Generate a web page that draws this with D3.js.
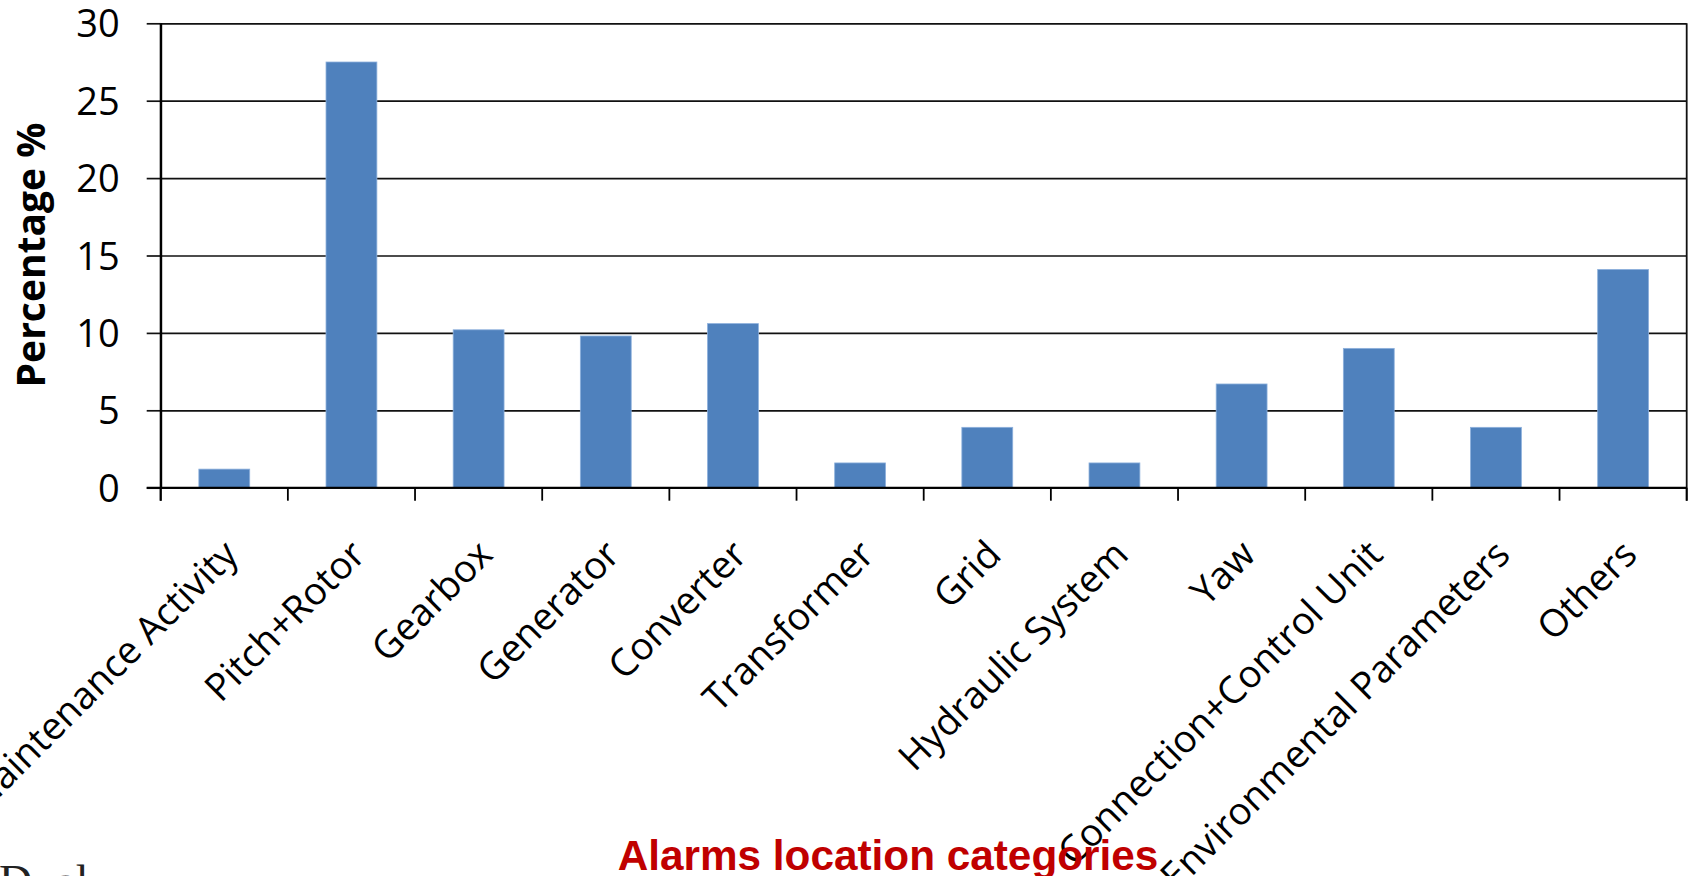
<!DOCTYPE html>
<html>
<head>
<meta charset="utf-8">
<script src="https://cdn.jsdelivr.net/npm/d3@7"></script>
<style>
  html, body { margin: 0; padding: 0; background: #fff; overflow: hidden; }
  svg { display: block; }
</style>
</head>
<body>
<svg id="chart" width="1694" height="876"></svg>
<script>
// ---- data ----
const categories = ["Maintenance Activity", "Pitch+Rotor", "Gearbox", "Generator", "Converter",
  "Transformer", "Grid", "Hydraulic System", "Yaw", "Connection+Control Unit",
  "Environmental Parameters", "Others"];
const percentages = [1.2, 27.5, 10.2, 9.8, 10.6, 1.6, 3.9, 1.6, 6.7, 9.0, 3.9, 14.1];
const yTicks = [0, 5, 10, 15, 20, 25, 30];
const yLabel = "Percentage %";
const xLabel = "Alarms location categories";
const footText = "Dual";

// ---- layout ----
const pLeft = 160.7, pRight = 1686.7, pTop = 23.3, pBottom = 487.7;
const svg = d3.select("#chart");

const y = d3.scaleLinear().domain([0, 30]).range([pBottom, pTop]);
const x = d3.scaleBand().domain(categories).range([pLeft, pRight]).paddingInner(0.6).paddingOuter(0.3);
const xb = d3.scaleBand().domain(categories).range([pLeft, pRight]).padding(0);

// gridlines
const grid = svg.append("g").attr("transform", `translate(${pLeft},0)`)
  .call(d3.axisLeft(y).tickValues(yTicks).tickSize(-(pRight - pLeft)).tickFormat(""));
grid.select(".domain").remove();
grid.selectAll("line").attr("stroke", "#111").attr("stroke-width", 1.7);

// bars
svg.append("g").selectAll("rect").data(categories).join("rect")
  .attr("x", d => x(d))
  .attr("width", x.bandwidth())
  .attr("y", (d, i) => y(percentages[i]))
  .attr("height", (d, i) => y(0) - y(percentages[i]))
  .attr("fill", "#4F81BD")
  .attr("stroke", "#8DB0DC")
  .attr("stroke-width", 0.8);

// right border
svg.append("line").attr("x1", pRight).attr("x2", pRight).attr("y1", y(30)).attr("y2", y(0) + 13)
  .attr("stroke", "#111").attr("stroke-width", 1.8);

// y axis
const ya = svg.append("g").attr("transform", `translate(${pLeft},0)`)
  .call(d3.axisLeft(y).tickValues(yTicks).tickSize(14).tickSizeOuter(0).tickPadding(27));
ya.select(".domain").attr("stroke", "#000").attr("stroke-width", 2);
ya.selectAll("line").attr("stroke", "#111").attr("stroke-width", 1.7);
ya.selectAll("text").attr("font-family", "'Open Sans', sans-serif").attr("font-size", 38)
  .attr("fill", "#000").attr("dy", "0.36em");

// x axis baseline
svg.append("line").attr("x1", pLeft - 14).attr("x2", pRight).attr("y1", y(0)).attr("y2", y(0))
  .attr("stroke", "#000").attr("stroke-width", 2);
// category boundary ticks
const bounds = categories.map(c => xb(c)).concat([xb(categories[categories.length - 1]) + xb.bandwidth()]);
svg.append("g").selectAll("line").data(bounds).join("line")
  .attr("x1", d => d).attr("x2", d => d)
  .attr("y1", y(0)).attr("y2", y(0) + 13)
  .attr("stroke", "#000").attr("stroke-width", 1.8);

// left axis line extension down
svg.append("line").attr("x1", pLeft).attr("x2", pLeft).attr("y1", y(30)).attr("y2", y(0) + 13)
  .attr("stroke", "#000").attr("stroke-width", 2);

// category labels
svg.append("g").selectAll("text").data(categories).join("text")
  .attr("transform", d => `translate(${xb(d) + xb.bandwidth() / 2 + 16},${y(0) + 69}) rotate(-45)`)
  .attr("text-anchor", "end")
  .attr("font-family", "'Open Sans', sans-serif")
  .attr("font-size", 38)
  .attr("fill", "#000")
  .text(d => d);

// y label
svg.append("text")
  .attr("transform", `translate(45,255) rotate(-90)`)
  .attr("text-anchor", "middle")
  .attr("font-family", "'Open Sans', sans-serif")
  .attr("font-weight", "bold")
  .attr("font-size", 39)
  .attr("fill", "#000")
  .text(yLabel);

// x title
svg.append("text")
  .attr("x", 888).attr("y", 870)
  .attr("text-anchor", "middle")
  .attr("font-family", "'Liberation Sans', Arial, sans-serif")
  .attr("font-weight", "bold")
  .attr("font-size", 42.3)
  .attr("fill", "#C00000")
  .text(xLabel);

// cropped footer text
svg.append("text")
  .attr("x", -1).attr("y", 897)
  .attr("font-family", "'Liberation Serif', 'Times New Roman', serif")
  .attr("font-size", 46)
  .attr("fill", "#222")
  .text(footText);
</script>
</body>
</html>
